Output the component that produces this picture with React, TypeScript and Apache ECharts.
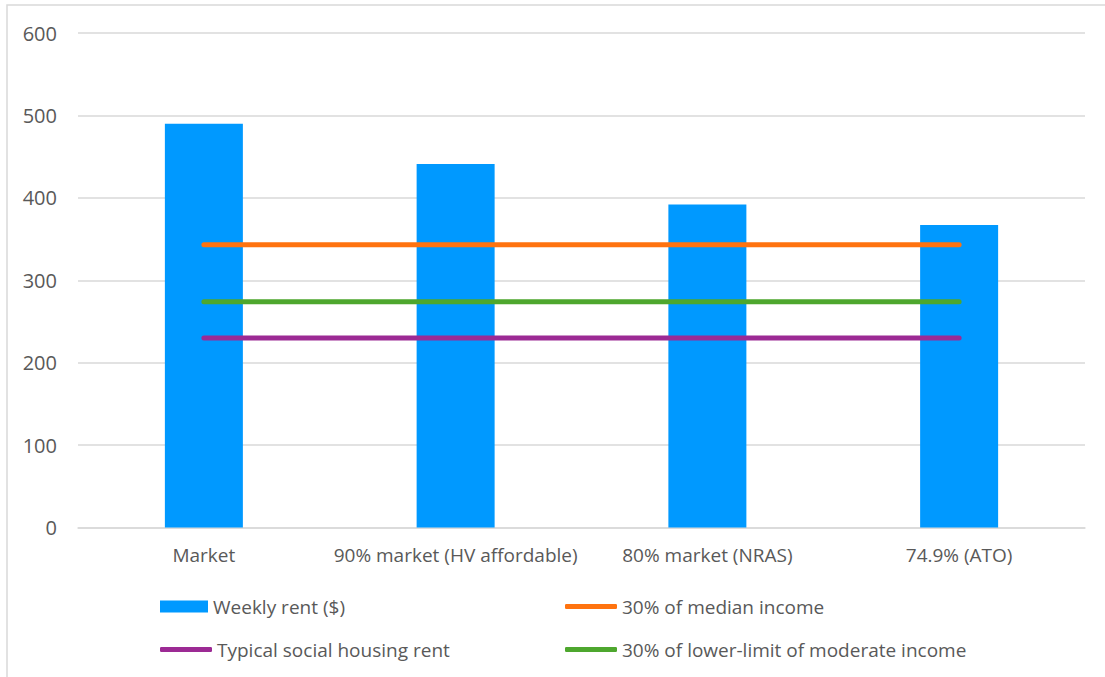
import React, { useEffect, useRef } from "react";
import * as echarts from "echarts";

// Rent options and reference affordability levels (weekly, $)
const categories = ["Market", "90% market (HV affordable)", "80% market (NRAS)", "74.9% (ATO)"];
const weeklyRent = [490, 441, 392, 367];
const medianIncome30 = [343, 343, 343, 343];
const socialHousingRent = [230, 230, 230, 230];
const moderateIncome30 = [274, 274, 274, 274];
const yTicks = { min: 0, max: 600, interval: 100 };

const NAMES = {
  rent: "Weekly rent ($)",
  median: "30% of median income",
  social: "Typical social housing rent",
  moderate: "30% of lower-limit of moderate income",
};

const COLORS = {
  bar: "#0099FF",
  orange: "#FF730F",
  purple: "#9C2A94",
  green: "#4EA72E",
  text: "#595959",
  grid: "#D9D9D9",
};

const FONT = "'Open Sans', 'Noto Sans', sans-serif";

export default function App() {
  const ref = useRef<HTMLDivElement>(null);

  useEffect(() => {
    if (!ref.current) return;
    const chart = echarts.init(ref.current, undefined, { renderer: "svg" });

    const lineSeries = (name: string, data: number[], color: string) => ({
      name,
      type: "line",
      data,
      symbol: "none",
      z: 3,
      lineStyle: { color, width: 5, cap: "round" },
      itemStyle: { color },
    });

    const lineLegend = (name: string, left: number, top: number) => ({
      data: [name],
      left,
      top,
      padding: 0,
      icon: "roundRect",
      itemWidth: 52,
      itemHeight: 5,
      textStyle: { color: COLORS.text, fontSize: 19, fontFamily: FONT },
      selectedMode: false,
    });

    chart.setOption({
      animation: false,
      backgroundColor: "#ffffff",
      textStyle: { fontFamily: FONT },
      graphic: [
        {
          type: "rect",
          shape: { x: 7, y: 5, width: 1110, height: 690 },
          style: { fill: "none", stroke: COLORS.grid, lineWidth: 1.5 },
          silent: true,
        },
      ],
      grid: { left: 78, right: 20, top: 33, bottom: 149.5, containLabel: false },
      xAxis: {
        type: "category",
        data: categories,
        axisTick: { show: false },
        axisLine: { show: true, lineStyle: { color: COLORS.grid, width: 1.5 } },
        axisLabel: {
          color: COLORS.text,
          fontSize: 19,
          fontFamily: FONT,
          margin: 18,
          interval: 0,
          hideOverlap: false,
        },
      },
      yAxis: {
        type: "value",
        min: yTicks.min,
        max: yTicks.max,
        interval: yTicks.interval,
        axisLine: { show: false },
        axisTick: { show: false },
        splitLine: { lineStyle: { color: COLORS.grid, width: 1.5 } },
        axisLabel: { color: COLORS.text, fontSize: 20, fontFamily: FONT, margin: 21 },
      },
      legend: [
        {
          data: [NAMES.rent],
          left: 160,
          top: 597,
          padding: 0,
          icon: "rect",
          itemWidth: 48,
          itemHeight: 12,
          textStyle: { color: COLORS.text, fontSize: 19, fontFamily: FONT },
          selectedMode: false,
        },
        lineLegend(NAMES.median, 565, 597),
        lineLegend(NAMES.social, 160, 640),
        lineLegend(NAMES.moderate, 565, 640),
      ],
      series: [
        {
          name: NAMES.rent,
          type: "bar",
          data: weeklyRent,
          barWidth: 78,
          itemStyle: { color: COLORS.bar },
          z: 2,
        },
        lineSeries(NAMES.median, medianIncome30, COLORS.orange),
        lineSeries(NAMES.social, socialHousingRent, COLORS.purple),
        lineSeries(NAMES.moderate, moderateIncome30, COLORS.green),
      ],
    });

    return () => chart.dispose();
  }, []);

  return (
    <div
      ref={ref}
      style={{ position: "fixed", left: 0, top: 0, width: 1105, height: 677, background: "#fff" }}
    />
  );
}
